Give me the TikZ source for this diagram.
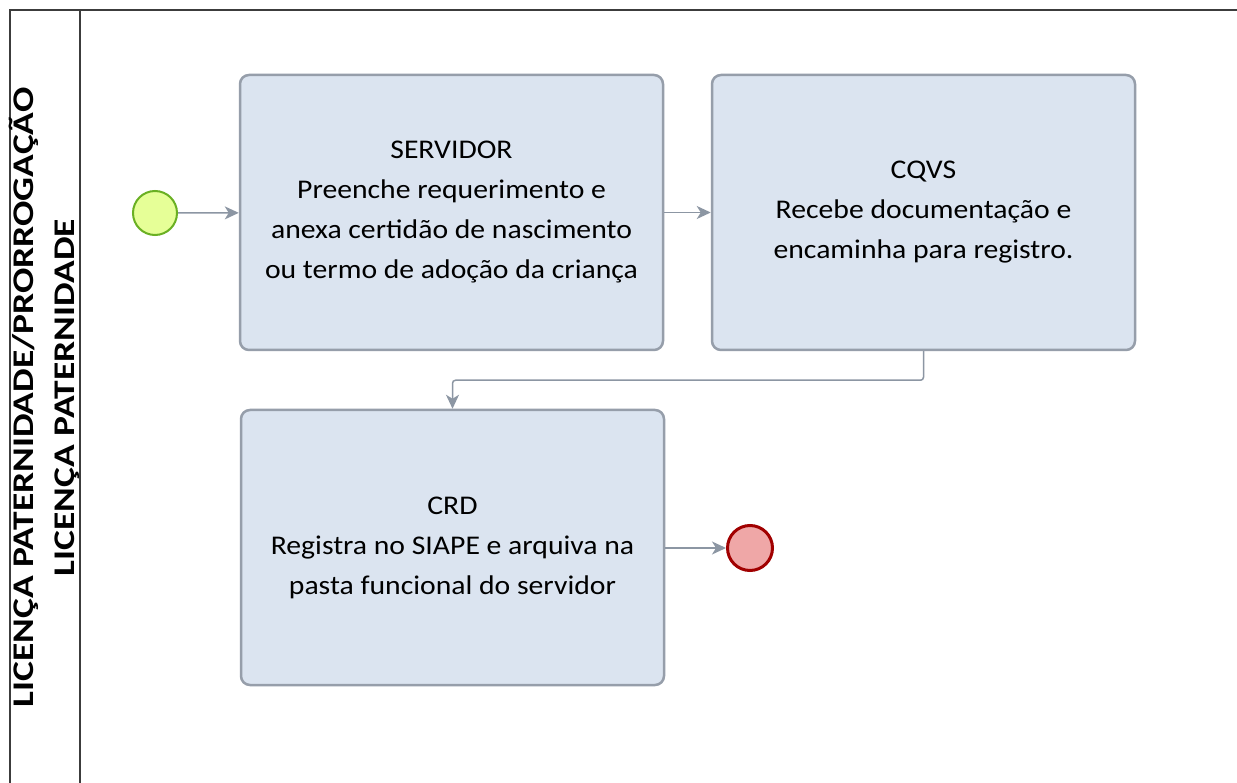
\documentclass[tikz,border=0pt]{standalone}
\usepackage{fontspec}
\usetikzlibrary{arrows.meta}
\newfontfamily\mainf[FakeStretch=1.1]{Carlito}
\newfontfamily\lanef[FakeStretch=1.25]{Carlito}
\definecolor{boxfill}{RGB}{219,228,240}
\definecolor{boxdraw}{RGB}{150,158,170}
\definecolor{arrowc}{RGB}{140,150,163}
\definecolor{startfill}{RGB}{230,255,151}
\definecolor{startdraw}{RGB}{106,176,35}
\definecolor{endfill}{RGB}{239,167,167}
\definecolor{enddraw}{RGB}{161,0,0}
\definecolor{poolc}{RGB}{60,60,60}
\tikzset{
  taskbox/.style={draw=boxdraw, fill=boxfill, line width=2.5pt, rounded corners=9pt,
    minimum width=423pt, minimum height=275pt, inner sep=0pt, align=center,
    font=\mainf\fontsize{27}{40}\selectfont},
  startev/.style={circle, draw=startdraw, fill=startfill, line width=2pt, minimum size=44pt, inner sep=0pt},
  endev/.style={circle, draw=enddraw, fill=endfill, line width=3pt, minimum size=45pt, inner sep=0pt},
  flow/.style={draw=arrowc, line width=1.5pt, -{Stealth[length=14pt,width=13pt,inset=4pt]}},
  lanelabel/.style={rotate=90, align=center, inner sep=0pt, font=\lanef\bfseries\fontsize{30}{41}\selectfont}
}
\begin{document}
\begin{tikzpicture}[x=1pt,y=-1pt]
\useasboundingbox (0,0) rectangle (1237,783);
\clip (0,0) rectangle (1237,783);
\fill[white] (0,0) rectangle (1237,783);
\draw[poolc, line width=1.6pt] (10,800) -- (10,10) -- (1250,10);
\draw[poolc, line width=1.6pt] (80,10) -- (80,800);
\node[lanelabel] (lane) at (44.5,397.5) {LICENÇA PATERNIDADE/PRORROGAÇÃO\\LICENÇA PATERNIDADE};
\node[taskbox] (b1) at (451.5,212.5) {SERVIDOR\\Preenche requerimento e\\anexa certidão de nascimento\\ou termo de adoção da criança};
\node[taskbox] (b2) at (923.5,212.5) {CQVS\\Recebe documentação e\\encaminha para registro.};
\node[taskbox] (b3) at (452.5,547.5) {CRD\\Registra no SIAPE e arquiva na\\pasta funcional do servidor};
\node[startev] (start) at (155,213) {};
\node[endev] (end) at (750,548) {};
\draw[flow] (start) -- (b1);
\draw[flow] (b1) -- (b2);
\draw[flow] (b3.east |- end) -- (end);
\draw[flow, rounded corners=3pt] (b2.south) -- ++(0,29) -| (b3.north);
\end{tikzpicture}
\end{document}
